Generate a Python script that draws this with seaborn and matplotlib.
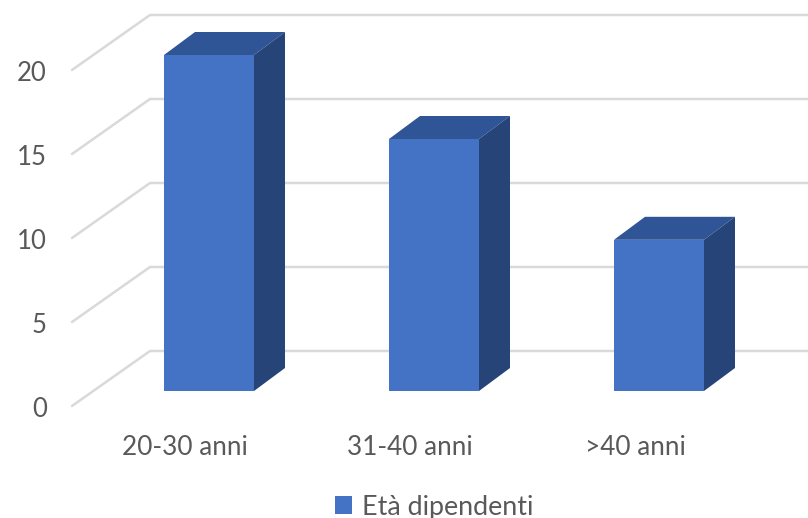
"""Eta dipendenti - fake 3D bar chart, drawn on a seaborn barplot"""
import matplotlib
matplotlib.use("Agg")
import matplotlib.pyplot as plt
import matplotlib.transforms as mtrans
import pandas as pd
import seaborn as sns
from matplotlib.patches import Polygon

categories = ["20-30 anni", "31-40 anni", ">40 anni"]
values = [20, 15, 9]
series_name = "Età dipendenti"
y_ticks = [0, 5, 10, 15, 20]

FRONT = "#4472C4"
TOP = "#2F5597"
SIDE = "#264478"
GRID = "#D9D9D9"
TEXT = "#595959"

# pixels per unit of the two axes
PX_X = 225
PX_Y = 16.8

sns.set_theme(style="white")
plt.rcParams["font.family"] = ["Lato", "DejaVu Sans"]

W, H = 808, 518
BASE = 391  # pixel row of the bars' feet
fig = plt.figure(figsize=(W / 100, H / 100), dpi=100)
ax = fig.add_axes([72 / W, (H - BASE) / H, (W - 72) / W, BASE / H])

df = pd.DataFrame({"cat": categories, "val": values, "serie": series_name})
sns.barplot(data=df, x="cat", y="val", hue="serie", palette=[FRONT], width=0.4,
            saturation=1, linewidth=0, ax=ax, zorder=3)

ax.set_xlim((72 - 209) / PX_X, (W - 209) / PX_X)
ax.set_ylim(0, BASE / PX_Y)
sns.despine(ax=ax, left=True, bottom=True)
ax.set_xlabel("")
ax.set_ylabel("")

# walls: slanted piece on the left, then the line along the back
wall_x = (150 - 72) / PX_X
front_dy = -15 / PX_Y
back_dy = 40 / PX_Y
x0 = ax.get_xlim()[0]
for v in y_ticks:
    ax.plot([x0, x0 + wall_x, ax.get_xlim()[1]],
            [v + front_dy, v + back_dy, v + back_dy],
            color=GRID, lw=1.8, clip_on=False, zorder=1, solid_joinstyle="miter")

# depth of each bar
depth_x = 31 / PX_X
depth_y = 23 / PX_Y
for bar in ax.patches:
    x, w, h = bar.get_x(), bar.get_width(), bar.get_height()
    if h == 0:
        continue
    ax.add_patch(Polygon([(x, h), (x + depth_x, h + depth_y),
                          (x + w + depth_x, h + depth_y), (x + w, h)],
                         closed=True, fc=TOP, ec="none", zorder=3))
    ax.add_patch(Polygon([(x + w, 0), (x + w + depth_x, depth_y),
                          (x + w + depth_x, h + depth_y), (x + w, h)],
                         closed=True, fc=SIDE, ec="none", zorder=3))

ax.set_yticks(y_ticks)
ax.tick_params(axis="y", length=0, pad=18, labelsize=18.5, labelcolor=TEXT)
ax.tick_params(axis="x", length=0, pad=32, labelsize=18.8, labelcolor=TEXT)
# y labels sit on the front edge of the floor, x labels are left of the bars' centres
shift_y = mtrans.ScaledTranslation(0, -16 / 100, fig.dpi_scale_trans)
for lab in ax.get_yticklabels():
    lab.set_transform(lab.get_transform() + shift_y)
shift_x = mtrans.ScaledTranslation(-24 / 100, 0, fig.dpi_scale_trans)
for lab in ax.get_xticklabels():
    lab.set_transform(lab.get_transform() + shift_x)

ax.legend(loc="center", bbox_to_anchor=(434 / W, (H - 507) / H),
          bbox_transform=fig.transFigure, frameon=False, fontsize=19.4,
          labelcolor=TEXT, handlelength=0.65, handleheight=0.65, handletextpad=0.35)

fig.savefig("out.png", dpi=100)
plt.close(fig)
